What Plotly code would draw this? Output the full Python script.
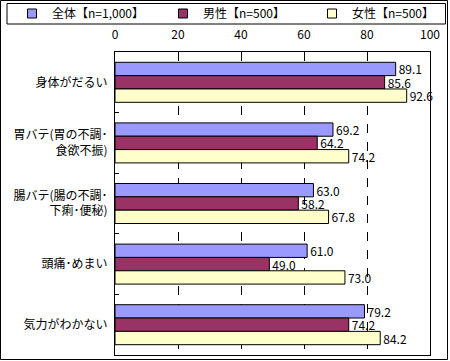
import plotly.graph_objects as go

categories = ["身体がだるい", "胃バテ(胃の不調･<br>食欲不振)", "腸バテ(腸の不調･<br>下痢･便秘)", "頭痛･めまい", "気力がわかない"]
series_names = ["全体【n=1,000】", "男性【n=500】", "女性【n=500】"]
values_all = [89.1, 69.2, 63.0, 61.0, 79.2]
values_male = [85.6, 64.2, 58.2, 49.0, 74.2]
values_female = [92.6, 74.2, 67.8, 73.0, 84.2]
colors = ["#9999FF", "#993366", "#FFFFCC"]
x_ticks = [0, 20, 40, 60, 80, 100]

W, H = 450, 361
L, R, T, B = 115, 20, 52, 6
pw, ph = W - L - R, H - T - B

def px2x(px):
    return (px - L) / pw

def py2y(py):
    return (H - B - py) / ph

FONT = "Noto Sans CJK JP"
legend_ids = ["legend", "legend2", "legend3"]
legend_text_x = [52, 203, 352]

fig = go.Figure()
for name, vals, col, lid in zip(series_names, [values_all, values_male, values_female], colors, legend_ids):
    fig.add_trace(go.Bar(
        y=categories, x=vals, orientation="h", name=name,
        marker=dict(color=col, line=dict(color="black", width=1)),
        text=[f"{v:.1f}" for v in vals], textposition="outside", constraintext="none",
        textfont=dict(size=12, color="black", family=FONT),
        cliponaxis=False, showlegend=False,
    ))
    fig.add_trace(go.Scatter(
        x=[None], y=[None], mode="markers", name=name, legend=lid,
        marker=dict(symbol="square", size=9, color=col, line=dict(color="black", width=1)),
        showlegend=True,
    ))

legend_common = dict(orientation="h", yanchor="middle", bgcolor="rgba(0,0,0,0)", borderwidth=0,
                     font=dict(size=12, family=FONT))
layout_legends = {}
for lid, tx in zip(legend_ids, legend_text_x):
    layout_legends[lid] = dict(legend_common, x=px2x(tx - 40), xanchor="left", y=py2y(13.5))

fig.update_layout(
    width=W, height=H,
    margin=dict(l=L, r=R, t=T, b=B, autoexpand=False),
    paper_bgcolor="white", plot_bgcolor="white",
    font=dict(family=FONT, size=12, color="black"),
    barmode="group", bargap=0.34, bargroupgap=0,
    showlegend=True,
    **layout_legends,
    xaxis=dict(
        side="top", range=[0, 100], tickvals=x_ticks, ticktext=[str(t) for t in x_ticks],
        showgrid=True, gridcolor="black", griddash="dash", gridwidth=1,
        showline=True, linecolor="black", mirror=True, linewidth=1,
        zeroline=False, ticks="", tickfont=dict(size=12), automargin=False,
        ticklabelstandoff=7,
    ),
    yaxis=dict(
        autorange="reversed", type="category",
        showline=True, linecolor="black", mirror=True, linewidth=1,
        ticks="inside", tickson="boundaries", ticklen=4, tickcolor="black",
        showgrid=False, tickfont=dict(size=12), ticklabelstandoff=4, automargin=False,
    ),
    shapes=[
        dict(type="rect", xref="paper", yref="paper", x0=px2x(0.5), x1=px2x(447.5),
             y0=py2y(0.5), y1=py2y(359.5), line=dict(color="black", width=1), layer="below"),
        dict(type="rect", xref="paper", yref="paper", x0=px2x(7), x1=px2x(445.5),
             y0=py2y(3.5), y1=py2y(24), line=dict(color="black", width=1), layer="below"),
    ],
)

fig.write_html("out.html", config={"displayModeBar": False},
               post_script="document.body.style.margin='0px';")
